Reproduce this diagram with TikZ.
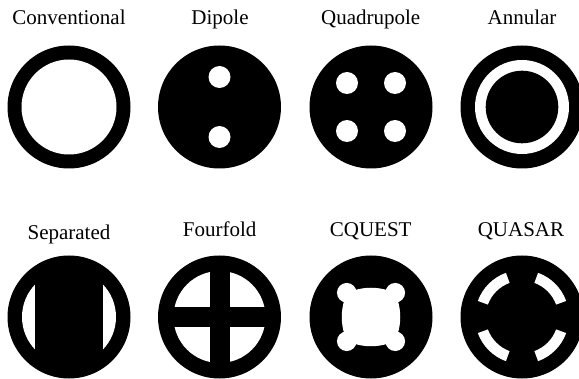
\documentclass[tikz,border=0pt]{standalone}
\usepackage{fontspec}
\setmainfont{Liberation Serif}
\tikzset{
  modename/.style={anchor=base,inner sep=0pt,font=\fontsize{21}{25}\selectfont},
  pupil/.style={fill=black},
  hole/.style={fill=white}
}
\begin{document}
\begin{tikzpicture}[x=1pt,y=1pt]
\useasboundingbox (0,0) rectangle (579,378);
\clip (0,0) rectangle (579,378);

\fill[pupil] (69,271) circle (61.5);
\fill[hole] (69,271) circle (47.5);

\fill[pupil] (219.5,271) circle (61.5);
\fill[hole] (219.5,301) circle (11);
\fill[hole] (219.5,241) circle (11);

\fill[pupil] (371,271) circle (61.5);
\foreach \dx in {-24,24}
  \foreach \dy in {-24,24}
    \fill[hole] (371+\dx,271+\dy) circle (11);

\fill[pupil] (522,271) circle (61.5);
\fill[hole] (522,271) circle (47);
\fill[pupil] (522,271) circle (36.3);

\fill[pupil] (69,61) circle (61.5);
\fill[hole] (69,61) circle (47);
\fill[pupil] (35,13) rectangle (103,109);

\fill[pupil] (219.5,61) circle (61.5);
\fill[hole] (219.5,61) circle (46);
\fill[pupil] (209.5,13) rectangle (229.5,109);
\fill[pupil] (171.5,51) rectangle (267.5,71);

\begin{scope}[shift={(371,61)}]
\fill[pupil] (0,0) circle (61.5);
\fill[hole] (24,-24) .. controls (31,-8) and (31,8) .. (24,24)
  .. controls (8,31) and (-8,31) .. (-24,24)
  .. controls (-31,8) and (-31,-8) .. (-24,-24)
  .. controls (-8,-31) and (8,-31) .. cycle;
\foreach \a in {45,135,225,315}
  \fill[hole] (\a:34.3) circle (9.8);
\end{scope}

\begin{scope}[shift={(522,61)}]
\fill[pupil] (0,0) circle (61.5);
\foreach \lo/\hi in {20/70,110/160,200/250,290/340}
  \fill[hole] (\lo:47) arc[start angle=\lo,end angle=\hi,radius=47]
    -- (\hi:36.3) arc[start angle=\hi,end angle=\lo,radius=36.3] -- cycle;
\end{scope}

\node[modename] (conv) at (69,353) {Conventional};
\node[modename] (dip) at (220,353) {Dipole};
\node[modename] (quad) at (370.7,353) {Quadrupole};
\node[modename] (ann) at (522,353) {Annular};
\node[modename] (sep) at (69,138) {Separated};
\node[modename] (four) at (219.7,141.3) {Fourfold};
\node[modename] (cq) at (370.7,141.3) {CQUEST};
\node[modename] (qs) at (521,141.3) {QUASAR};
\end{tikzpicture}
\end{document}
